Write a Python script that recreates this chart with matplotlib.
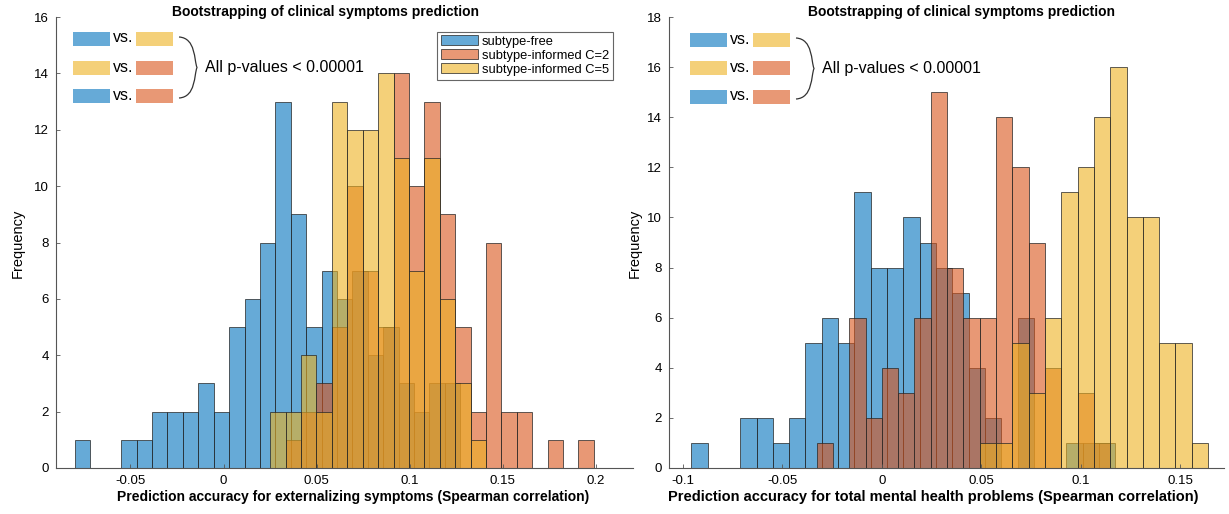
import matplotlib
matplotlib.use("Agg")
import numpy as np
import matplotlib.pyplot as plt
from matplotlib.path import Path
from matplotlib.patches import PathPatch, Rectangle

# ---- data (bin counts) ----
left_bin_width = 0.00828
left_free_start = -0.0798
left_free_counts = [1, 0, 0, 1, 1, 2, 2, 2, 3, 2, 5, 6, 8, 13, 9, 5, 7, 6, 7, 4, 5, 3, 2, 3, 3]
left_c2_start = 0.0251
left_c2_counts = [0, 1, 2, 3, 5, 10, 7, 5, 14, 10, 13, 9, 5, 2, 8, 2, 2, 0, 1, 0, 1]
left_c5_start = 0.0251
left_c5_counts = [2, 2, 4, 2, 13, 12, 12, 14, 11, 7, 11, 6, 3, 1]

right_bin_width = 0.0082
right_free_start = -0.0958
right_free_counts = [1, 0, 0, 2, 2, 1, 2, 5, 6, 5, 11, 8, 8, 10, 9, 8, 7, 4, 2, 0, 6, 0, 0, 1, 1, 1]
right_c2_start = -0.0328
right_c2_counts = [1, 0, 6, 2, 4, 3, 6, 15, 8, 6, 6, 14, 12, 9, 4, 0, 3, 1]
right_c5_start = 0.0492
right_c5_counts = [1, 1, 5, 3, 6, 11, 12, 14, 16, 10, 10, 5, 5, 1]

series_names = ["subtype-free", "subtype-informed C=2", "subtype-informed C=5"]

left_xticks = [-0.05, 0, 0.05, 0.1, 0.15, 0.2]
left_xticklabels = ["-0.05", "0", "0.05", "0.1", "0.15", "0.2"]
left_yticks = list(range(0, 17, 2))
right_xticks = [-0.1, -0.05, 0, 0.05, 0.1, 0.15]
right_xticklabels = ["-0.1", "-0.05", "0", "0.05", "0.1", "0.15"]
right_yticks = list(range(0, 19, 2))

title = "Bootstrapping of clinical symptoms prediction"
left_xlabel = "Prediction accuracy for externalizing symptoms (Spearman correlation)"
right_xlabel = "Prediction accuracy for total mental health problems (Spearman correlation)"
pval_text = "All p-values < 0.00001"

# ---- style ----
W, H = 1229, 514
ALPHA = 0.6
BLUE = (0 / 255, 114 / 255, 189 / 255)
ORANGE = (217 / 255, 83 / 255, 25 / 255)
YELLOW = (237 / 255, 177 / 255, 32 / 255)
EDGE = (0.15, 0.15, 0.15, 0.85)

plt.rcParams["font.family"] = ["Liberation Sans", "DejaVu Sans"]


def fx(px):
    return px / W


def fy(py):
    return 1 - py / H


def draw_hist(ax, start, width, counts, color):
    edges = start + width * np.arange(len(counts) + 1)
    return ax.bar(edges[:-1], counts, width=width, align="edge",
                  facecolor=color + (ALPHA,), edgecolor=EDGE, linewidth=0.6)


def style_axes(ax, xlim, ylim, xticks, xticklabels, yticks):
    ax.set_xlim(*xlim)
    ax.set_ylim(*ylim)
    ax.set_xticks(xticks)
    ax.set_xticklabels(xticklabels, fontsize=9.5)
    ax.set_yticks(yticks)
    ax.set_yticklabels([str(v) for v in yticks], fontsize=9.5)
    for s in ["top", "right"]:
        ax.spines[s].set_visible(False)
    for s in ["left", "bottom"]:
        ax.spines[s].set_color("#555555")
        ax.spines[s].set_linewidth(0.8)
    ax.tick_params(direction="in", length=3, width=0.6, color="#555555", pad=5)


def draw_pvalue_block(fig, x0, rows_y):
    pairs = [(BLUE, YELLOW), (YELLOW, ORANGE), (BLUE, ORANGE)]
    for (c1, c2), yc in zip(pairs, rows_y):
        for xa, c in [(x0, c1), (x0 + 63, c2)]:
            fig.add_artist(Rectangle((fx(xa), fy(yc + 7)), 37 / W, 14 / H,
                                     transform=fig.transFigure,
                                     facecolor=c + (ALPHA,), edgecolor="none"))
        fig.text(fx(x0 + 40), fy(yc - 1), "vs.", fontsize=11.5, va="center", ha="left")
    # curly bracket
    bx = x0 + 106
    top, mid, bot = rows_y[0] - 2, (rows_y[0] + rows_y[-1]) / 2, rows_y[-1] + 2
    verts = [(bx, top), (bx + 17, top + 1), (bx + 15, mid - 7), (bx + 18, mid),
             (bx + 15, mid + 7), (bx + 17, bot - 1), (bx, bot)]
    codes = [Path.MOVETO, Path.CURVE4, Path.CURVE4, Path.CURVE4,
             Path.CURVE4, Path.CURVE4, Path.CURVE4]
    verts = [(fx(a), fy(b)) for a, b in verts]
    fig.add_artist(PathPatch(Path(verts, codes), transform=fig.transFigure,
                             fill=False, lw=0.9, edgecolor="#333333"))
    fig.text(fx(bx + 26), fy(mid), pval_text, fontsize=11.5, va="center", ha="left")


fig = plt.figure(figsize=(W / 100, H / 100), dpi=100)

# left panel
ax1 = fig.add_axes([fx(56), fy(468), (633 - 56) / W, (468 - 17) / H])
draw_hist(ax1, left_free_start, left_bin_width, left_free_counts, BLUE)
draw_hist(ax1, left_c2_start, left_bin_width, left_c2_counts, ORANGE)
draw_hist(ax1, left_c5_start, left_bin_width, left_c5_counts, YELLOW)
style_axes(ax1, (-0.09, 0.22), (0, 16), left_xticks, left_xticklabels, left_yticks)

# right panel
ax2 = fig.add_axes([fx(669), fy(468), (1224 - 669) / W, (468 - 17) / H])
draw_hist(ax2, right_free_start, right_bin_width, right_free_counts, BLUE)
draw_hist(ax2, right_c2_start, right_bin_width, right_c2_counts, ORANGE)
draw_hist(ax2, right_c5_start, right_bin_width, right_c5_counts, YELLOW)
style_axes(ax2, (-0.107, 0.172), (0, 18), right_xticks, right_xticklabels, right_yticks)

# titles, labels
fig.text(fx(326), fy(12), title, fontsize=10, fontweight="bold", ha="center", va="center")
fig.text(fx(961), fy(12), title, fontsize=10, fontweight="bold", ha="center", va="center")
fig.text(fx(353), fy(497), left_xlabel, fontsize=10, fontweight="bold",
         ha="center", va="center")
fig.text(fx(933), fy(497), right_xlabel, fontsize=10.5, fontweight="bold",
         ha="center", va="center")
fig.text(fx(18), fy(243), "Frequency", fontsize=10.5, rotation=90,
         ha="center", va="center")
fig.text(fx(635), fy(243), "Frequency", fontsize=10.5, rotation=90,
         ha="center", va="center")

# legend
handles = ax1.containers[:3]
leg = ax1.legend(handles, series_names, loc="upper right",
                 bbox_to_anchor=(fx(613), fy(31.5)), bbox_transform=fig.transFigure,
                 fontsize=9.3, fancybox=False, framealpha=1, edgecolor="#666666",
                 handlelength=2.9, handleheight=0.8, handletextpad=0.3,
                 labelspacing=0.12, borderpad=0.3, borderaxespad=0)
leg.get_frame().set_linewidth(0.8)

# p-value annotations
draw_pvalue_block(fig, 73, [39, 68, 96])
draw_pvalue_block(fig, 690, [40, 68, 97])

fig.savefig("out.png", dpi=100)
